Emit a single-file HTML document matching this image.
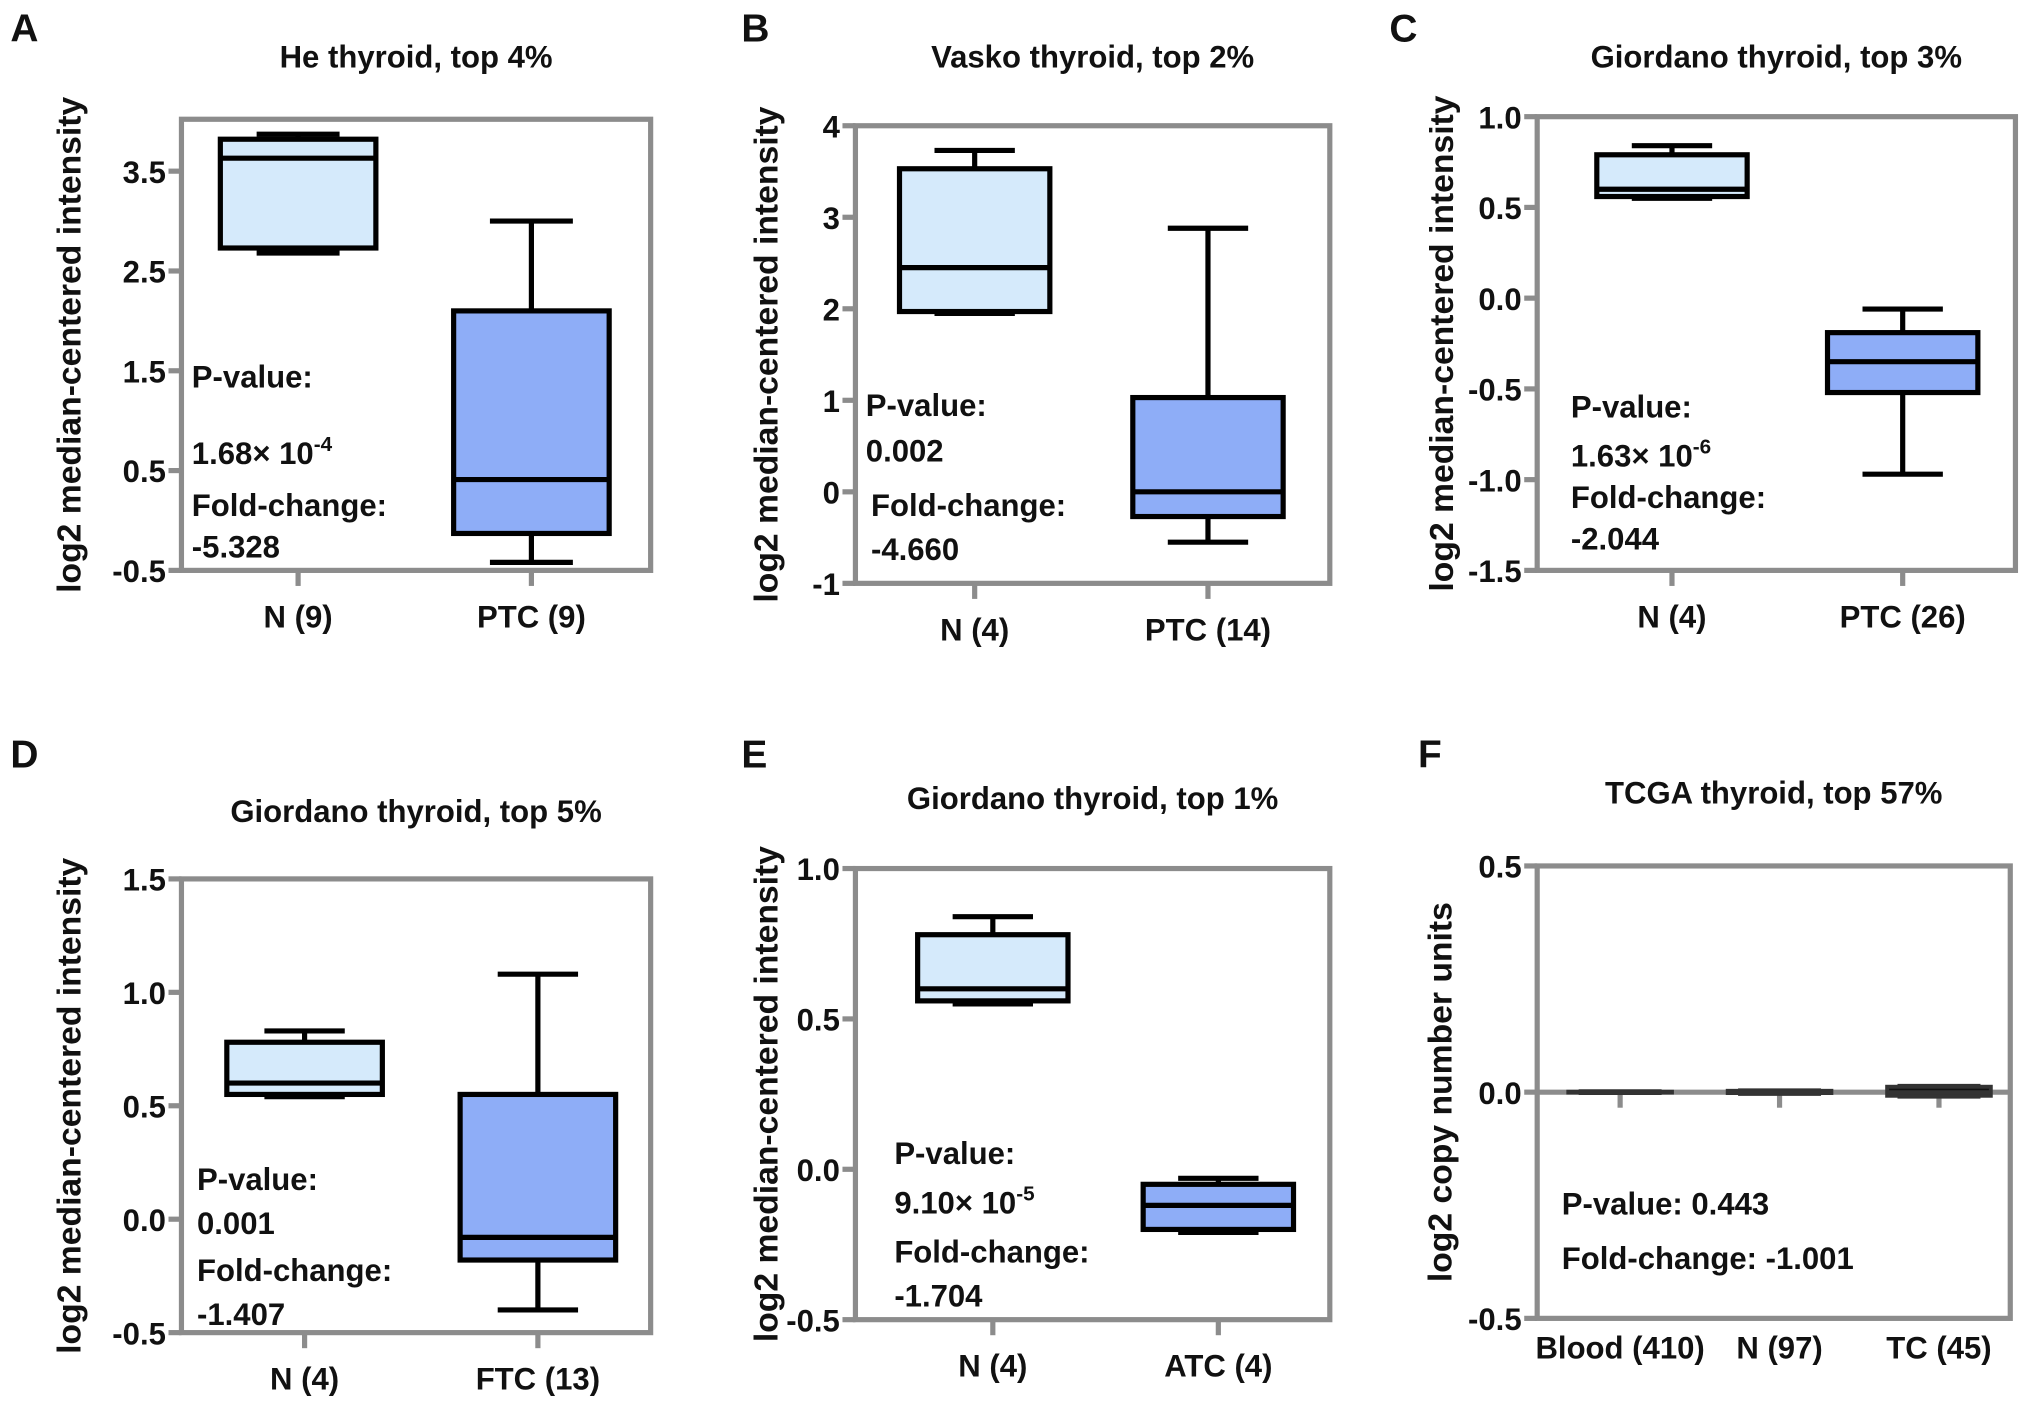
<!DOCTYPE html>
<html><head><meta charset="utf-8"><style>
html,body{margin:0;padding:0;background:#fff;}
svg{display:block;font-family:"Liberation Sans",Arial,sans-serif;font-weight:bold;}
</style></head><body>
<svg id="fig" width="2031" height="1413" viewBox="0 0 1567 1090" preserveAspectRatio="none" xmlns="http://www.w3.org/2000/svg">
<g id="root"></g>
</svg>
<script>
// Panel A
const aCats = ["N (9)", "PTC (9)"];
const aMin = [2.68, -0.42];
const aQ1 = [2.73, -0.13];
const aMed = [3.63, 0.41];
const aQ3 = [3.82, 2.1];
const aMax = [3.87, 3.0];
const aTicks = [3.5, 2.5, 1.5, 0.5, -0.5];
// Panel B
const bCats = ["N (4)", "PTC (14)"];
const bMin = [1.95, -0.55];
const bQ1 = [1.97, -0.27];
const bMed = [2.45, 0.0];
const bQ3 = [3.53, 1.03];
const bMax = [3.73, 2.88];
const bTicks = [4, 3, 2, 1, 0, -1];
// Panel C
const cCats = ["N (4)", "PTC (26)"];
const cMin = [0.55, -0.97];
const cQ1 = [0.56, -0.52];
const cMed = [0.6, -0.35];
const cQ3 = [0.79, -0.19];
const cMax = [0.84, -0.06];
const cTicks = [1.0, 0.5, 0.0, -0.5, -1.0, -1.5];
// Panel D
const dCats = ["N (4)", "FTC (13)"];
const dMin = [0.54, -0.4];
const dQ1 = [0.55, -0.18];
const dMed = [0.6, -0.08];
const dQ3 = [0.78, 0.55];
const dMax = [0.83, 1.08];
const dTicks = [1.5, 1.0, 0.5, 0.0, -0.5];
// Panel E
const eCats = ["N (4)", "ATC (4)"];
const eMin = [0.55, -0.21];
const eQ1 = [0.56, -0.2];
const eMed = [0.6, -0.12];
const eQ3 = [0.78, -0.05];
const eMax = [0.84, -0.03];
const eTicks = [1.0, 0.5, 0.0, -0.5];
// Panel F
const fCats = ["Blood (410)", "N (97)", "TC (45)"];
const fMin = [-0.002, -0.004, -0.01];
const fQ1 = [-0.001, -0.002, -0.008];
const fMed = [0.0, 0.0, 0.0];
const fQ3 = [0.001, 0.003, 0.012];
const fMax = [0.002, 0.004, 0.014];
const fTicks = [0.5, 0.0, -0.5];

const NS = "http://www.w3.org/2000/svg";
const root = document.getElementById("root");
const FS = 24;
function mk(tag, attrs, parent) {
  const e = document.createElementNS(NS, tag);
  for (const k in attrs) e.setAttribute(k, attrs[k]);
  (parent || root).appendChild(e);
  return e;
}
function txt(s, x, y, size, anchor, parent) {
  const t = mk("text", {x: x, y: y, "font-size": size, "text-anchor": anchor || "start", fill: "#111"}, parent);
  t.textContent = s;
  return t;
}

function panel(cfg) {
  const g = mk("g", {});
  
  
  const [x0, y0, x1, y1] = cfg.frame;
  const [vmin, vmax] = cfg.range;
  const ys = v => y1 - (v - vmin) / (vmax - vmin) * (y1 - y0);
  const L = txt(cfg.letter, cfg.letterPos[0], cfg.letterPos[1], 30, "start", g);
  
  
  const T = txt(cfg.title, (x0 + x1) / 2, cfg.titleY, FS, "middle", g);
  
  
  const yt = mk("text", {x: 0, y: 0, "font-size": 26, "text-anchor": "middle", fill: "#111",
    transform: "translate(" + cfg.yTitleX + "," + ((y0 + y1) / 2) + ") rotate(-90)"}, g);
  yt.textContent = cfg.yTitle;
  
  
  const fr = mk("rect", {x: x0, y: y0, width: x1 - x0, height: y1 - y0, fill: "none", stroke: "#8c8c8c", "stroke-width": 4}, g);
  
  
  cfg.ticks.forEach(v => {
    const y = ys(v);
    const tk = mk("line", {x1: x0 - 10, x2: x0, y1: y, y2: y, stroke: "#8c8c8c", "stroke-width": 4}, g);
    
    
    const lb = txt(cfg.fmt(v), x0 - 12, y + 9, FS, "end", g);
    
    
  });
  const axisY = cfg.zeroAxis ? ys(0) : y1;
  if (cfg.zeroAxis) {
    const za = mk("line", {x1: x0, x2: x1, y1: axisY, y2: axisY, stroke: "#8c8c8c", "stroke-width": 4}, g);
    
    
  }
  const half = cfg.half, cap = cfg.cap;
  cfg.cats.forEach((c, i) => {
    const cx = cfg.cx[i];
    const xt = mk("line", {x1: cx, x2: cx, y1: axisY, y2: axisY + 12, stroke: "#8c8c8c", "stroke-width": 4}, g);
    
    
    const xl = txt(c, cx, cfg.labelY, FS, "middle", g);
    
    
    const bg = mk("g", {}, g);
    
    
    const sc = cfg.stroke;
    const sw = cfg.sw;
    mk("line", {x1: cx, x2: cx, y1: ys(cfg.max[i]), y2: ys(cfg.q3[i]), stroke: sc, "stroke-width": sw}, bg);
    mk("line", {x1: cx, x2: cx, y1: ys(cfg.q1[i]), y2: ys(cfg.min[i]), stroke: sc, "stroke-width": sw}, bg);
    mk("line", {x1: cx - cap, x2: cx + cap, y1: ys(cfg.max[i]), y2: ys(cfg.max[i]), stroke: sc, "stroke-width": sw}, bg);
    mk("line", {x1: cx - cap, x2: cx + cap, y1: ys(cfg.min[i]), y2: ys(cfg.min[i]), stroke: sc, "stroke-width": sw}, bg);
    mk("rect", {x: cx - half, y: ys(cfg.q3[i]), width: 2 * half, height: Math.max(0.5, ys(cfg.q1[i]) - ys(cfg.q3[i])),
      fill: cfg.fills[i], stroke: sc, "stroke-width": sw}, bg);
    mk("line", {x1: cx - half, x2: cx + half, y1: ys(cfg.med[i]), y2: ys(cfg.med[i]), stroke: sc, "stroke-width": sw}, bg);
  });
  cfg.notes.forEach(n => {
    const t = mk("text", {x: n[0], y: n[1], "font-size": FS, fill: "#111"}, g);
    
    
    t.textContent = n[2];
    if (n[3]) {
      const s = mk("tspan", {dy: -10, "font-size": 16}, t);
      s.textContent = n[3];
    }
  });
}
const fmt1 = v => v.toFixed(1);
const fmt0 = v => String(v);
const light = "#d5eafb", dark = "#8eadf7";

panel({id:"a", letter:"A", letterPos:[8,32], title:"He thyroid, top 4%", titleY:52, yTitle:"log2 median-centered intensity", yTitleX:62,
  frame:[140,92,502,440], range:[-0.5,4.02], ticks:aTicks, fmt:fmt1, cats:aCats, cx:[230,410], labelY:484, half:60, cap:32,
  min:aMin,q1:aQ1,med:aMed,q3:aQ3,max:aMax, fills:[light,dark], stroke:"#000", sw:4,
  notes:[[148,299,"P-value:"],[148,358,"1.68× 10","-4"],[148,398,"Fold-change:"],[148,430,"-5.328"]]});
panel({id:"b", letter:"B", letterPos:[572,32], title:"Vasko thyroid, top 2%", titleY:52, yTitle:"log2 median-centered intensity", yTitleX:600,
  frame:[660,97,1026,450], range:[-1,4], ticks:bTicks, fmt:fmt0, cats:bCats, cx:[752,932], labelY:494, half:58, cap:31,
  min:bMin,q1:bQ1,med:bMed,q3:bQ3,max:bMax, fills:[light,dark], stroke:"#000", sw:4,
  notes:[[668,321,"P-value:"],[668,356,"0.002"],[672,398,"Fold-change:"],[672,432,"-4.660"]]});
panel({id:"c", letter:"C", letterPos:[1072,32], title:"Giordano thyroid, top 3%", titleY:52, yTitle:"log2 median-centered intensity", yTitleX:1121,
  frame:[1186,90,1555,440], range:[-1.5,1.0], ticks:cTicks, fmt:fmt1, cats:cCats, cx:[1290,1468], labelY:484, half:58, cap:31,
  min:cMin,q1:cQ1,med:cMed,q3:cQ3,max:cMax, fills:[light,dark], stroke:"#000", sw:4,
  notes:[[1212,322,"P-value:"],[1212,360,"1.63× 10","-6"],[1212,392,"Fold-change:"],[1212,424,"-2.044"]]});
panel({id:"d", letter:"D", letterPos:[8,592], title:"Giordano thyroid, top 5%", titleY:634, yTitle:"log2 median-centered intensity", yTitleX:62,
  frame:[140,678,502,1028], range:[-0.5,1.5], ticks:dTicks, fmt:fmt1, cats:dCats, cx:[235,415], labelY:1072, half:60, cap:31,
  min:dMin,q1:dQ1,med:dMed,q3:dQ3,max:dMax, fills:[light,dark], stroke:"#000", sw:4,
  notes:[[152,918,"P-value:"],[152,952,"0.001"],[152,988,"Fold-change:"],[152,1022,"-1.407"]]});
panel({id:"e", letter:"E", letterPos:[572,592], title:"Giordano thyroid, top 1%", titleY:624, yTitle:"log2 median-centered intensity", yTitleX:600,
  frame:[660,670,1026,1018], range:[-0.5,1.0], ticks:eTicks, fmt:fmt1, cats:eCats, cx:[766,940], labelY:1062, half:58, cap:31,
  min:eMin,q1:eQ1,med:eMed,q3:eQ3,max:eMax, fills:[light,dark], stroke:"#000", sw:4,
  notes:[[690,898,"P-value:"],[690,936,"9.10× 10","-5"],[690,974,"Fold-change:"],[690,1008,"-1.704"]]});
panel({id:"f", letter:"F", letterPos:[1094,592], title:"TCGA thyroid, top 57%", titleY:620, yTitle:"log2 copy number units", yTitleX:1120,
  frame:[1186,668,1551,1017], range:[-0.5,0.5], ticks:fTicks, fmt:fmt1, cats:fCats, cx:[1250,1373,1496], labelY:1048, half:40, cap:32,
  zeroAxis:true,
  min:fMin,q1:fQ1,med:fMed,q3:fQ3,max:fMax, fills:["#555","#555","#111"], stroke:"#333", sw:3,
  notes:[[1205,937,"P-value: 0.443"],[1205,979,"Fold-change: -1.001"]]});
</script>
</body></html>
